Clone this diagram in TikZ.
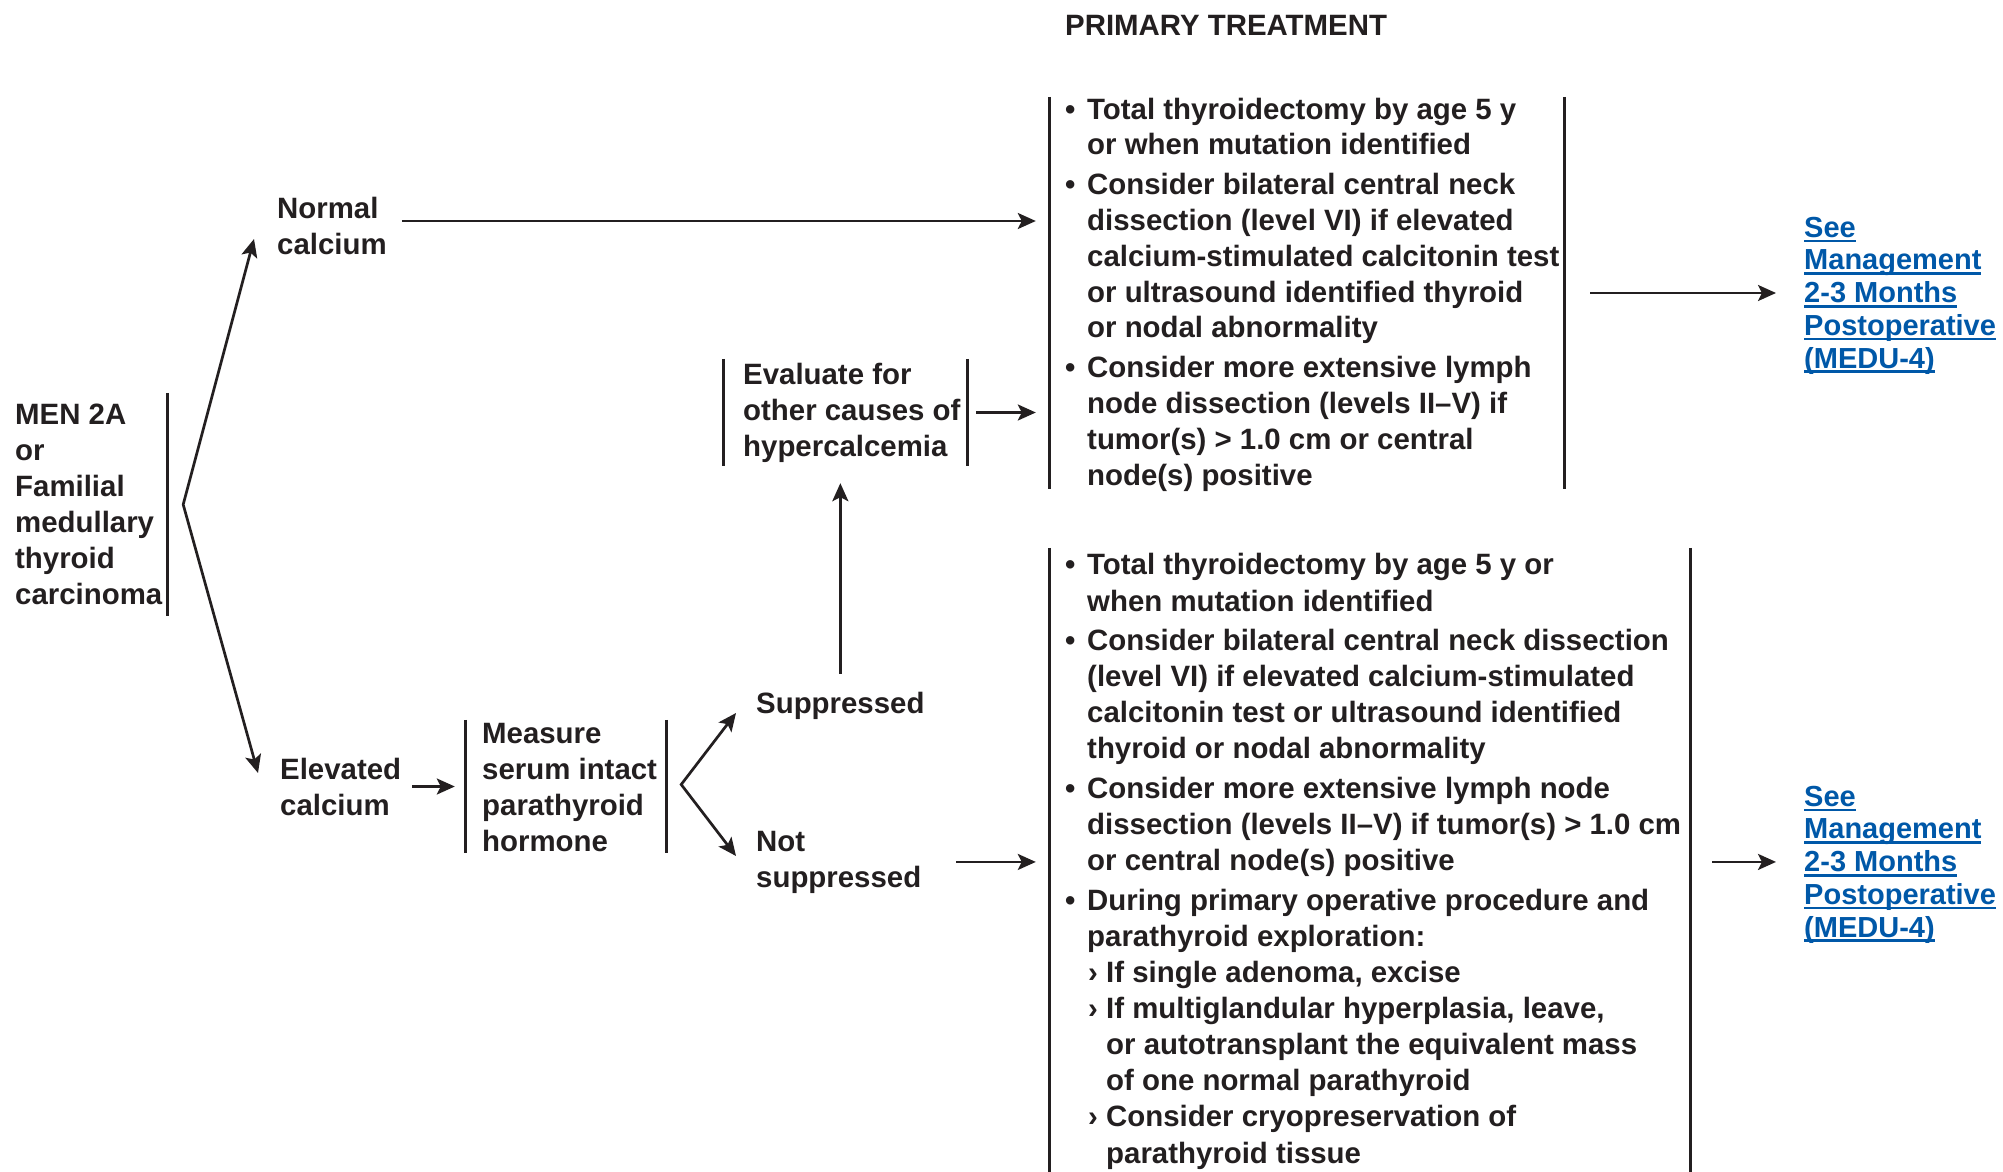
\documentclass[tikz,border=0pt]{standalone}
\usepackage{fontspec}
\setmainfont{Liberation Sans}
\usetikzlibrary{arrows.meta,calc,fit}
\definecolor{ink}{HTML}{231F20}
\definecolor{linkblue}{RGB}{0,88,168}
% list helpers: bullet, continuation indent, sub-bullet, sub-continuation
\newcommand{\itembul}{\makebox[22pt][l]{•}}
\newcommand{\bulcont}{\hspace*{22pt}}
\newcommand{\subbul}{\hspace*{23pt}\makebox[18pt][l]{›}}
\newcommand{\subcont}{\hspace*{41pt}}
% underlined link text
\newcommand{\ulink}[1]{\setbox0\hbox{#1}\rlap{\rule[-5pt]{\wd0}{2.6pt}}\box0}
\begin{document}
\begin{tikzpicture}[x=1pt,y=-1pt,
  % multi-line nodes are placed by the baseline of their last line
  txt/.style={font=\fontsize{29.4}{36}\selectfont\bfseries, text=ink, inner sep=0pt, anchor=base west, align=left},
  lnk/.style={txt, text=linkblue, font=\fontsize{29}{32.7}\selectfont\bfseries},
  frm/.style={inner sep=0pt, draw=none},
  bar/.style={draw=ink, line width=2.8pt},
  tip/.style={Stealth[length=18pt,width=16pt,inset=4pt]},
  arr/.style={draw=ink, line width=2.7pt, -{Stealth[length=18pt,width=16pt,inset=4pt]}},
  darr/.style={draw=ink, line width=2.7pt, {Stealth[length=18pt,width=16pt,inset=4pt]}-{Stealth[length=18pt,width=16pt,inset=4pt]}}
]
\useasboundingbox[fill=white] (0,0) rectangle (2003,1172);

% heading
\node[txt] (title) at (1065,36) {PRIMARY TREATMENT};

% entry
\node[txt] (men) at (15,604) {MEN 2A\\or\\Familial\\medullary\\thyroid\\carcinoma};
\node[frm, fit={(10,393) (167,616)}] (menF) {};
\draw[bar] (menF.north east) -- (menF.south east);

% calcium branches
\node[txt] (normal) at (277,254) {Normal\\calcium};
\node[txt] (elev) at (280,815) {Elevated\\calcium};

% PTH measurement
\node[txt] (meas) at (482,851) {Measure\\serum intact\\parathyroid\\hormone};
\node[frm, fit={(466,720) (666,853)}] (measF) {};
\draw[bar] (measF.north west) -- (measF.south west) (measF.north east) -- (measF.south east);

\node[txt] (supp) at (756,713) {Suppressed};
\node[txt] (ns) at (756,887) {Not\\suppressed};

% other causes
\node[txt] (eval) at (743,456) {Evaluate for\\other causes of\\hypercalcemia};
\node[frm, fit={(724,359) (967,466)}] (evalF) {};
\draw[bar] (evalF.north west) -- (evalF.south west) (evalF.north east) -- (evalF.south east);

% treatment, normal calcium
\node[txt, font=\fontsize{29.4}{35.7}\selectfont\bfseries] (t1) at (1065,485) {%
\itembul Total thyroidectomy by age 5 y\\
\bulcont or when mutation identified\\[4.5pt]
\itembul Consider bilateral central neck\\
\bulcont dissection (level VI) if elevated\\
\bulcont calcium-stimulated calcitonin test\\
\bulcont or ultrasound identified thyroid\\
\bulcont or nodal abnormality\\[4.5pt]
\itembul Consider more extensive lymph\\
\bulcont node dissection (levels II–V) if\\
\bulcont tumor(s) > 1.0 cm or central\\
\bulcont node(s) positive};
\node[frm, fit={(1050,97) (1564,489)}] (t1F) {};
\draw[bar] (t1F.north west) -- (t1F.south west) (t1F.north east) -- (t1F.south east);

% treatment, hyperparathyroidism
\node[txt, font=\fontsize{29.4}{36.1}\selectfont\bfseries] (t2) at (1065,1163) {%
\itembul Total thyroidectomy by age 5 y or\\
\bulcont when mutation identified\\[3.5pt]
\itembul Consider bilateral central neck dissection\\
\bulcont (level VI) if elevated calcium-stimulated\\
\bulcont calcitonin test or ultrasound identified\\
\bulcont thyroid or nodal abnormality\\[3.5pt]
\itembul Consider more extensive lymph node\\
\bulcont dissection (levels II–V) if tumor(s) > 1.0 cm\\
\bulcont or central node(s) positive\\[3.5pt]
\itembul During primary operative procedure and\\
\bulcont parathyroid exploration:\\
\subbul If single adenoma, excise\\
\subbul If multiglandular hyperplasia, leave,\\
\subcont or autotransplant the equivalent mass\\
\subcont of one normal parathyroid\\
\subbul Consider cryopreservation of\\
\subcont parathyroid tissue};
\node[frm, fit={(1050,548) (1690,1180)}] (t2F) {};
\draw[bar] (t2F.north west) -- (t2F.south west) (t2F.north east) -- (t2F.south east);

% follow-up links
\node[lnk] (link1) at (1804,368) {\ulink{See}\\\ulink{Management}\\\ulink{2-3 Months}\\\ulink{Postoperative}\\\ulink{(MEDU-4)}};
\node[lnk] (link2) at (1804,937) {\ulink{See}\\\ulink{Management}\\\ulink{2-3 Months}\\\ulink{Postoperative}\\\ulink{(MEDU-4)}};

% connectors
\coordinate (f1) at ($(menF.east)+(16,0)$);
\draw[darr] ($(normal.base west)+(-23,-15)$) -- (f1) -- ($(elev.base west)+(-22,-42)$);
\draw[arr, shorten >=14pt] ($(normal.base east)+(15,-33)$) coordinate (n1) -- (n1 -| t1F.west);
\draw[arr, shorten <=9pt, shorten >=14pt] (evalF.east) -- (evalF.east -| t1F.west);
\draw[arr, shorten <=26pt, shorten >=28pt] (t1F.east) -- (t1F.east -| link1.west);
\draw[arr, shorten <=18pt, shorten >=17pt] (supp.north) -- (supp.north |- evalF.south);
\draw[arr, shorten <=11pt, shorten >=11pt] (measF.west -| elev.east) -- (measF.west);
\coordinate (f2) at ($(measF.east)+(15,-2)$);
\draw[darr] ($(supp.base west)+(-20,0)$) -- (f2) -- ($(ns.base west)+(-20,-31)$);
\draw[arr, shorten <=35pt, shorten >=14pt] (ns.east) -- (ns.east -| t2F.west);
\draw[arr, shorten <=22pt, shorten >=28pt] (t2F.east |- ns.east) -- (link2.west |- ns.east);
\end{tikzpicture}
\end{document}
